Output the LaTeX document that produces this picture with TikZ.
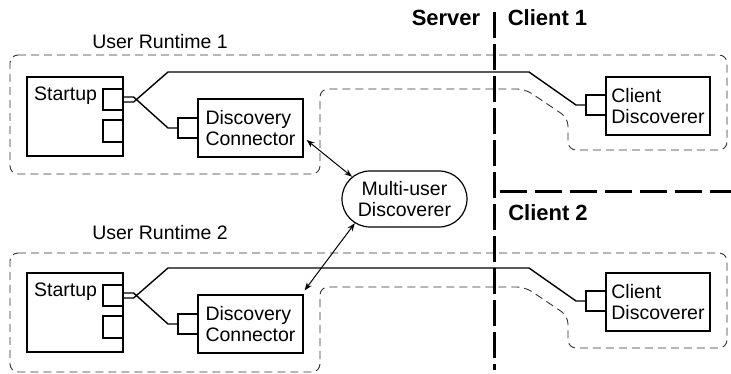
\documentclass[tikz,border=0pt]{standalone}
\usepackage{fontspec}
\setmainfont{Liberation Sans}
\usetikzlibrary{arrows.meta,calc,shapes.misc}
\begin{document}
\begin{tikzpicture}[x=1pt,y=-1pt,
  txt/.style={font=\fontsize{19.5}{21.5}\selectfont, inner sep=0pt},
  bold/.style={font=\fontsize{22}{24}\selectfont\bfseries, inner sep=0pt},
  box/.style={draw, line width=1.2pt, rectangle, inner sep=0pt},
  port/.style={draw, line width=1.2pt, rectangle, inner sep=0pt, minimum width=20pt, minimum height=21pt},
  wire/.style={line width=1.4pt},
  region/.style={draw=black!80, line width=0.9pt, dash pattern=on 8pt off 5pt, rounded corners=8pt},
  divider/.style={line width=3pt, dash pattern=on 26pt off 6pt},
  biarrow/.style={line width=1pt, {Stealth[length=8pt,width=6pt]}-{Stealth[length=8pt,width=6pt]}}
]
\useasboundingbox (0,0) rectangle (731,374);

\foreach \i/\o/\r/\l in {1/0/0/42, 2/196/198/233} {
  % region
  \draw[region] (10,55+\r) -- (727,55+\r) -- (727,150+\r) -- (568,150+\r) -- (568,118+\r)
     -- (525,89+\r) -- (320,89+\r) -- (320,174+\r) -- (10,174+\r) -- cycle;
  \node[txt] (ur\i) at (160,\l) {User Runtime \i};
  % startup
  \node[box, minimum width=96pt, minimum height=79pt] (st\i) at (75,116.5+\o) {};
  \node[txt, anchor=west] (stl\i) at (34,96+\o) {Startup};
  \node[port] (pa\i) at (113,99.5+\o) {};
  \node[port, minimum height=22pt] (pb\i) at (113,131+\o) {};
  % discovery connector
  \node[box, minimum width=105pt, minimum height=58pt, align=left, txt, draw] (dc\i) at (250.5,128+\o) {Discovery\\Connector};
  \node[port, minimum height=20pt] (dp\i) at (188,128+\o) {};
  % client discoverer
  \node[box, minimum width=104pt, minimum height=58pt, align=left, txt, draw] (cd\i) at (658,106+\o) {Client\\Discoverer};
  \node[port, minimum height=20pt] (cp\i) at (596,105+\o) {};
  % wires
  \draw[wire] ([yshift=-2.5pt]pa\i.east) -- ++(10,0) -- (168,72+\o) -- (529,72+\o) -- (576,105+\o) -- (cp\i.west);
  \draw[wire] ([yshift=2.5pt]pa\i.east) -- ++(10,0) -- (168,128+\o) -- (dp\i.west);
}

% multi-user discoverer
\node[draw, line width=1.2pt, rounded rectangle, minimum width=125pt, minimum height=56pt, txt, align=center] (mud) at (404.5,199) {Multi-user\\Discoverer};

\draw[biarrow] ($(dc1.east)+(3,12)$) -- (mud.157);
\draw[biarrow] (mud.206) -- ($(dc2.north east)+(1,-4)$);

% dividers
\coordinate (vtop) at (494,12);
\coordinate (vbot) at (494,370);
\draw[divider] (vtop) -- (vbot);
\coordinate (hl) at (500,192);
\coordinate (hr) at (731,192);
\draw[divider, dash pattern=on 27pt off 8pt] (hl) -- (hr);

\node[bold] (srv) at (446,18) {Server};
\node[bold] (c1) at (547.5,18) {Client 1};
\node[bold] (c2) at (548,213) {Client 2};
\end{tikzpicture}
\end{document}
